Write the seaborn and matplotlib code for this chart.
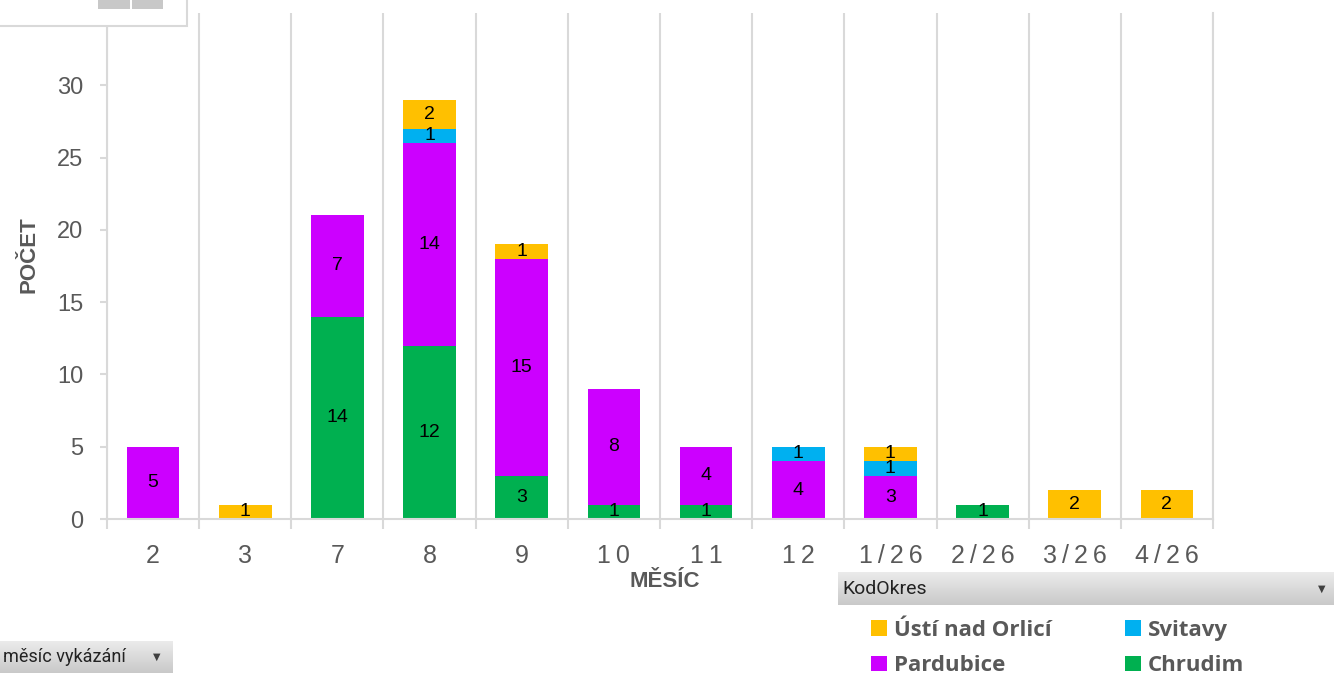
import matplotlib
matplotlib.use("Agg")
import matplotlib.pyplot as plt
from matplotlib.patches import Rectangle, Patch
import seaborn as sns
import numpy as np

# data
months = ["2", "3", "7", "8", "9", "10", "11", "12", "1/26", "2/26", "3/26", "4/26"]
chrudim = [0, 0, 14, 12, 3, 1, 1, 0, 0, 1, 0, 0]
pardubice = [5, 0, 7, 14, 15, 8, 4, 4, 3, 0, 0, 0]
svitavy = [0, 0, 0, 1, 0, 0, 0, 1, 1, 0, 0, 0]
usti = [0, 1, 0, 2, 1, 0, 0, 0, 1, 0, 2, 2]

series = [
    ("Chrudim", chrudim, "#00B050"),
    ("Pardubice", pardubice, "#CC00FF"),
    ("Svitavy", svitavy, "#00B0F0"),
    ("Ústí nad Orlicí", usti, "#FFC000"),
]

sns.set_theme(style="white")
plt.rcParams["font.family"] = ["Liberation Sans", "DejaVu Sans"]

grey_txt = "#595959"
line_col = "#D9D9D9"
W, H = 1334, 679

fig = plt.figure(figsize=(W / 100, H / 100), dpi=100)
ax = fig.add_axes([107 / W, 160 / H, 1106 / W, 506 / H])

bottom = np.zeros(len(months))
for name, vals, col in series:
    sns.barplot(x=months, y=vals, bottom=bottom, color=col, width=0.57,
                errorbar=None, linewidth=0, saturation=1, ax=ax)
    cont = ax.containers[-1]
    ax.bar_label(cont, labels=[str(v) if v > 0 else "" for v in vals],
                 label_type="center", fontsize=14, color="black")
    bottom = bottom + np.array(vals)

ax.set_xlim(-0.5, len(months) - 0.5)
ax.set_ylim(0, 35)
ax.set_yticks([0, 5, 10, 15, 20, 25, 30])

# category boundaries as vertical grid lines
ax.set_xticks(np.arange(-0.5, len(months), 1), minor=True)
ax.grid(False)
ax.grid(True, which="minor", axis="x", color=line_col, linewidth=1.5)
ax.set_axisbelow(True)
ax.tick_params(axis="x", which="minor", length=7, width=1.5, color=line_col, bottom=True)
ax.tick_params(axis="x", which="major", length=0, pad=18)
ax.tick_params(axis="y", length=5, width=1.5, color=line_col, left=True, pad=12)

ax.set_xticks(range(len(months)))
ax.set_xticklabels(["\u2009".join(m) for m in months], fontsize=18, color=grey_txt)
for t in ax.get_yticklabels():
    t.set_fontsize(17)
    t.set_color(grey_txt)

ax.spines["top"].set_visible(False)
for s in ["left", "bottom", "right"]:
    ax.spines[s].set_color(line_col)
    ax.spines[s].set_linewidth(1.5)

ax.set_ylabel("POČET", fontsize=16, fontweight="bold", color=grey_txt)
ax.yaxis.set_label_coords(-0.061, 0.522)
ax.set_xlabel("MĚSÍC", fontsize=16, fontweight="bold", color=grey_txt)
ax.xaxis.set_label_coords(0.5045, -0.102)


# pivot chart field buttons
def px_rect(x0, y0, x1, y1, **kw):
    fig.patches.append(Rectangle((x0 / W, 1 - y1 / H), (x1 - x0) / W,
                                 (y1 - y0) / H, transform=fig.transFigure, **kw))


def px_button(x0, y0, x1, y1):
    bax = fig.add_axes([x0 / W, 1 - y1 / H, (x1 - x0) / W, (y1 - y0) / H])
    grad = np.linspace(0, 1, 50).reshape(-1, 1)
    bax.imshow(grad, cmap=matplotlib.colors.LinearSegmentedColormap.from_list(
        "btn", ["#EBEBEB", "#C9C9C9"]), aspect="auto", extent=(0, 1, 1, 0))
    bax.set_axis_off()


px_rect(-2, -2, 187, 26, facecolor="white", edgecolor=line_col, linewidth=1.5)
px_rect(98, -2, 130, 9, facecolor="#C8C8C8", edgecolor="none")
px_rect(132, -2, 163, 9, facecolor="#C8C8C8", edgecolor="none")

px_button(838, 572, W, 605)
fig.text(842 / W, 1 - 589 / H, "KodOkres", fontsize=14, color="#222222",
         va="center", ha="left", family=["Roboto", "DejaVu Sans"])
fig.text(1322 / W, 1 - 589 / H, "▼", fontsize=7, color="#404040",
         va="center", ha="center", family=["DejaVu Sans"])

px_button(0, 641, 173, 673)
fig.text(3 / W, 1 - 657 / H, "měsíc vykázání", fontsize=13, color="#222222",
         va="center", ha="left", family=["Roboto", "DejaVu Sans"])
fig.text(157 / W, 1 - 657 / H, "▼", fontsize=7, color="#404040",
         va="center", ha="center", family=["DejaVu Sans"])

# legend
cols = {n: c for n, _, c in series}
order = ["Ústí nad Orlicí", "Pardubice", "Svitavy", "Chrudim"]
handles = [Patch(facecolor=cols[n], edgecolor="none", label=n) for n in order]
leg = fig.legend(handles=handles, ncol=2, frameon=False,
                 loc="upper left", bbox_to_anchor=(851 / W, 1 - 600 / H),
                 handlelength=0.72, handleheight=0.72, handletextpad=0.32,
                 columnspacing=3.3, labelspacing=0.64,
                 prop={"family": ["Open Sans", "DejaVu Sans"], "weight": "bold", "size": 16})
for t in leg.get_texts():
    t.set_color(grey_txt)

fig.savefig("out.png", dpi=100)
